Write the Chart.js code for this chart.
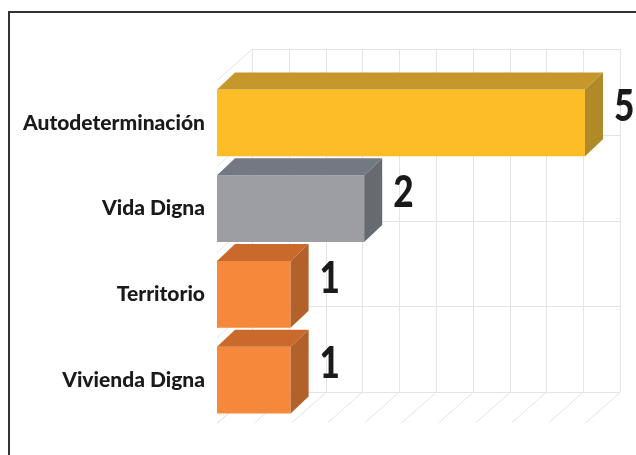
<!DOCTYPE html>
<html>
<head>
<meta charset="utf-8">
<script src="https://cdn.jsdelivr.net/npm/chart.js@4"></script>
<style>
    body { margin: 0; background: #fff; }
    #wrap { position: relative; width: 636px; height: 455px; overflow: hidden; }
    #frame {
        position: absolute; left: 8px; top: 11px; right: -10px; bottom: -10px;
        border-left: 2px solid #333; border-top: 2px solid #333;
        pointer-events: none;
    }
</style>
</head>
<body>
<div id="wrap">
    <canvas id="myChart" width="636" height="455"></canvas>
    <div id="frame"></div>
</div>
<script>
// data
var categories = ['Autodeterminación', 'Vida Digna', 'Territorio', 'Vivienda Digna'];
var values = [5, 2, 1, 1];
var frontColors = ['#fcbd26', '#9d9ea4', '#f5883a', '#f5883a'];
var topColors = ['#c6972a', '#737983', '#c96a2c', '#c96a2c'];
var sideColors = ['#b08a28', '#666b72', '#b3612a', '#b3612a'];

var depthX = 18, depthY = 17;   // bar depth
var wallX = 35, wallY = 31;     // back wall offset

var grid3d = {
    id: 'grid3d',
    beforeDatasetsDraw: function(chart) {
        var ctx = chart.ctx;
        var area = chart.chartArea;
        var xs = chart.scales.x;
        var slot = (area.bottom - area.top) / categories.length;

        ctx.save();
        ctx.strokeStyle = '#e4e4e4';
        ctx.lineWidth = 1;
        ctx.beginPath();
        // vertical lines on the back wall + floor diagonals
        for (var v = 0; v <= 5.001; v += 0.5) {
            var px = Math.round(xs.getPixelForValue(v)) + 0.5;
            ctx.moveTo(px + wallX, area.top - wallY);
            ctx.lineTo(px + wallX, area.bottom - wallY);
            ctx.moveTo(px, area.bottom);
            ctx.lineTo(px + wallX, area.bottom - wallY);
        }
        // horizontal lines on the back wall + left wall
        for (var i = 0; i <= categories.length; i++) {
            var yb = Math.round(area.top + i * slot) + 0.5;
            ctx.moveTo(area.left + wallX, yb - wallY);
            ctx.lineTo(area.right + wallX, yb - wallY);
            ctx.moveTo(area.left, yb);
            ctx.lineTo(area.left + wallX, yb - wallY);
        }
        ctx.stroke();
        ctx.restore();
    },
    afterDatasetsDraw: function(chart) {
        var ctx = chart.ctx;
        var meta = chart.getDatasetMeta(0);
        ctx.save();
        meta.data.forEach(function(bar, i) {
            var p = bar.getProps(['x', 'y', 'base', 'height'], true);
            var top = p.y - p.height / 2;
            var bottom = p.y + p.height / 2;

            // top face
            ctx.fillStyle = topColors[i];
            ctx.beginPath();
            ctx.moveTo(p.base, top);
            ctx.lineTo(p.x, top);
            ctx.lineTo(p.x + depthX, top - depthY);
            ctx.lineTo(p.base + depthX, top - depthY);
            ctx.closePath();
            ctx.fill();

            // side face
            ctx.fillStyle = sideColors[i];
            ctx.beginPath();
            ctx.moveTo(p.x, top);
            ctx.lineTo(p.x + depthX, top - depthY);
            ctx.lineTo(p.x + depthX, bottom - depthY);
            ctx.lineTo(p.x, bottom);
            ctx.closePath();
            ctx.fill();

            // value label, a bit narrow like the original
            ctx.save();
            ctx.translate(p.x + depthX + 11, p.y - 16);
            ctx.scale(0.8, 1);
            ctx.fillStyle = '#1a1a1a';
            ctx.font = '900 44px Lato';
            ctx.textAlign = 'left';
            ctx.textBaseline = 'middle';
            ctx.fillText(String(values[i]), 0, 0);
            ctx.restore();
        });
        ctx.restore();
    }
};

var chart = new Chart(document.getElementById('myChart').getContext('2d'), {
    type: 'bar',
    data: {
        labels: categories,
        datasets: [{
            data: values,
            backgroundColor: frontColors,
            borderWidth: 0,
            categoryPercentage: 1,
            barPercentage: 0.78
        }]
    },
    options: {
        indexAxis: 'y',
        responsive: false,
        animation: false,
        layout: { padding: { top: 80, bottom: 32, right: 51, left: 0 } },
        plugins: {
            legend: { display: false },
            tooltip: { enabled: false }
        },
        scales: {
            x: { display: false, min: 0, max: 5 },
            y: {
                grid: { display: false, drawTicks: false },
                border: { display: false },
                ticks: {
                    color: '#1a1a1a',
                    padding: 12,
                    font: { family: 'Lato', weight: '900', size: 21 }
                },
                afterFit: function(scale) { scale.width = 217; }
            }
        }
    },
    plugins: [grid3d]
});
</script>
</body>
</html>
